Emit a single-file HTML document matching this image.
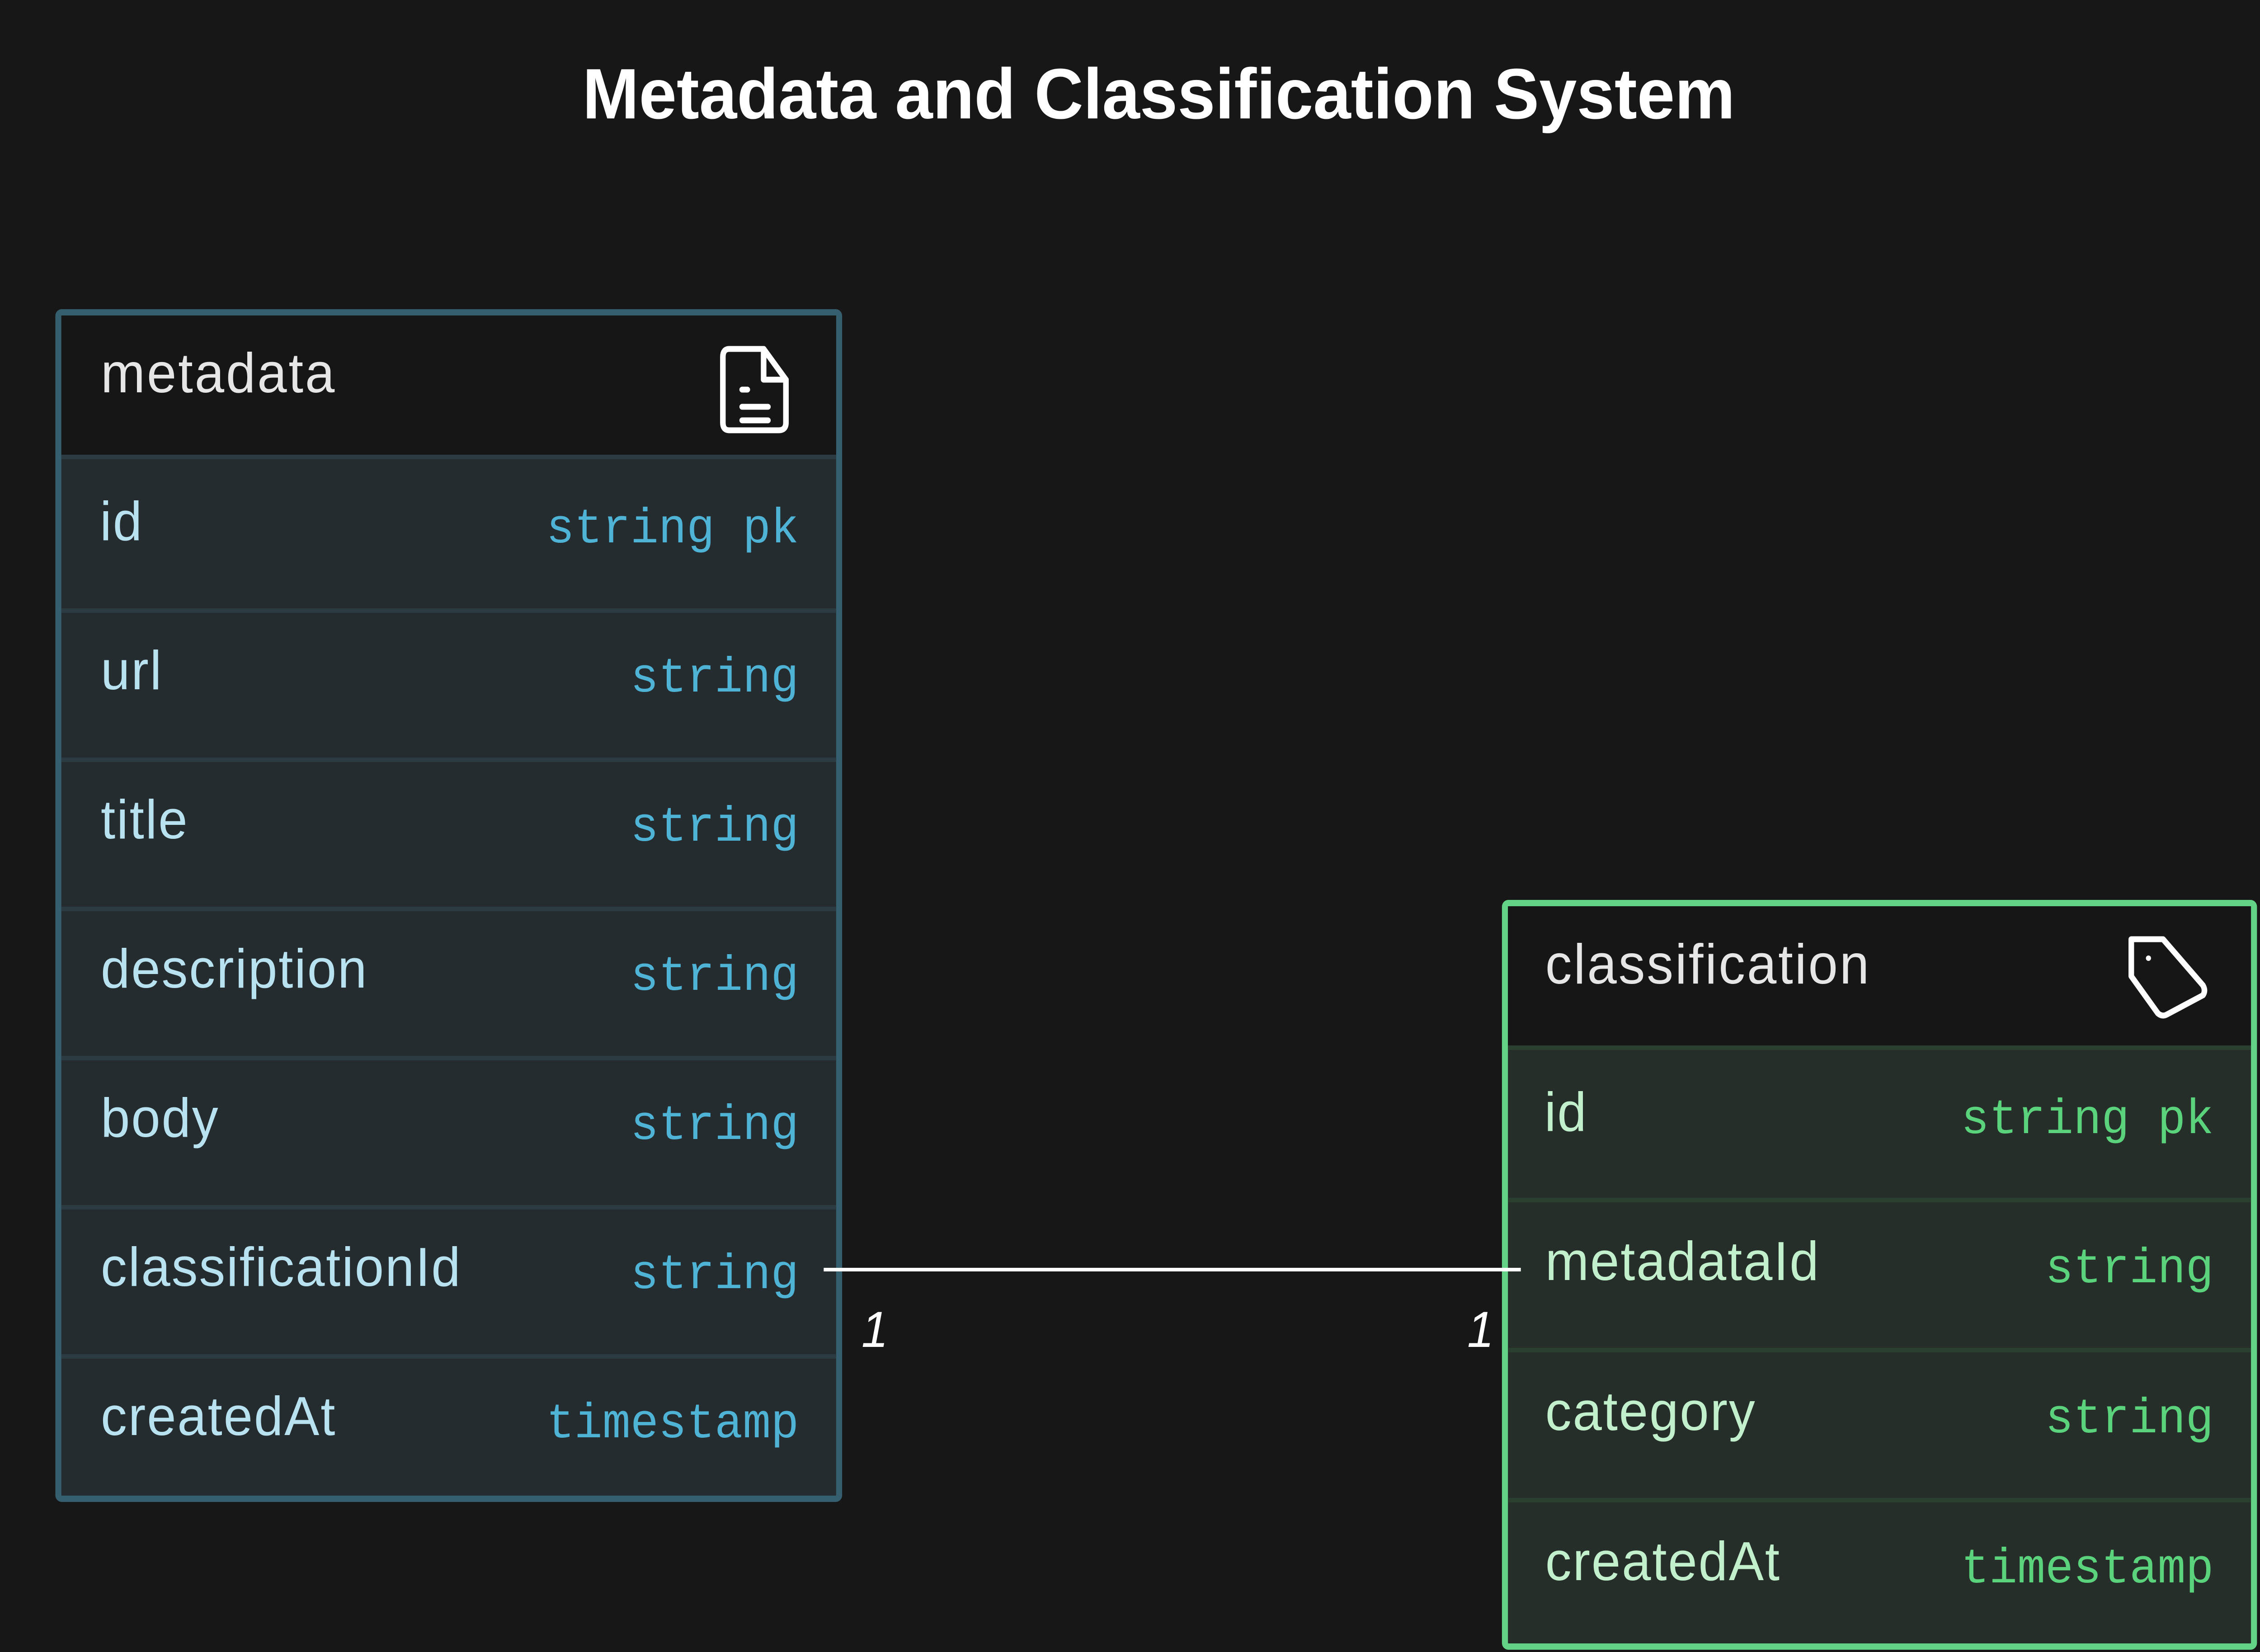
<!DOCTYPE html>
<html><head><meta charset="utf-8"><style>
html,body{margin:0;padding:0;background:#171717;width:100%;height:100%;overflow:hidden;}
svg{display:block;position:fixed;left:0;top:0;width:100vw;height:100vh}
.t{font-family:"Liberation Sans",sans-serif}
.m{font-family:"Liberation Mono",monospace}
</style></head><body>
<svg viewBox="0 0 5268 3655" preserveAspectRatio="none" xmlns="http://www.w3.org/2000/svg">
<rect width="5268" height="3655" fill="#171717"/>
<text x="2701" y="262" text-anchor="middle" class="t" font-weight="bold" font-size="158" fill="#ffffff">Metadata and Classification System</text>

<rect x="136" y="691" width="1820" height="2625" rx="8" fill="#252c30" stroke="#355f6e" stroke-width="14"/>
<rect x="143" y="698" width="1806" height="308" fill="#161616"/>
<g fill="#2c3b42">
<rect x="143" y="1006" width="1806" height="10"/>
<rect x="143" y="1346" width="1806" height="10"/>
<rect x="143" y="1676" width="1806" height="10"/>
<rect x="143" y="2006" width="1806" height="10"/>
<rect x="143" y="2336" width="1806" height="10"/>
<rect x="143" y="2666" width="1806" height="10"/>
<rect x="143" y="2996" width="1806" height="10"/>
</g>
<text x="235" y="868" class="t" font-size="124" letter-spacing="4" fill="#e6e6e6">metadata</text>
<g fill="none" stroke="#ffffff" stroke-width="13" stroke-linejoin="round" stroke-linecap="round">
<path d="M1700 772 H1780 L1832 840 V935 Q1832 952 1815 952 H1700 Q1685 952 1685 935 V790 Q1685 772 1700 772 Z"/>
<path d="M1780 772 V840 H1832"/>
<path d="M1730 862 H1742 M1730 900 H1790 M1730 930 H1790"/>
</g>
<g class="t" font-size="122" letter-spacing="3" fill="#b8e2f0">
<text x="233" y="1195">id</text>
<text x="235" y="1525">url</text>
<text x="235" y="1855">title</text>
<text x="235" y="2185">description</text>
<text x="235" y="2515">body</text>
<text x="235" y="2845">classificationId</text>
<text x="235" y="3175">createdAt</text>
</g>
<g class="m" font-size="109" fill="#4fb3d6" text-anchor="end">
<text x="1862" y="1200">string pk</text>
<text x="1862" y="1530">string</text>
<text x="1862" y="1860">string</text>
<text x="1862" y="2190">string</text>
<text x="1862" y="2520">string</text>
<text x="1862" y="2850">string</text>
<text x="1862" y="3180">timestamp</text>
</g>

<rect x="3508" y="1998" width="1746" height="1645" rx="8" fill="#252e29" stroke="#64d286" stroke-width="14"/>
<rect x="3515" y="2005" width="1732" height="308" fill="#161616"/>
<g fill="#2b3f31">
<rect x="3515" y="2313" width="1732" height="10"/>
<rect x="3515" y="2650" width="1732" height="10"/>
<rect x="3515" y="2982" width="1732" height="10"/>
<rect x="3515" y="3314" width="1732" height="10"/>
</g>
<text x="3602" y="2176" class="t" font-size="124" letter-spacing="4" fill="#e6e6e6">classification</text>
<g fill="none" stroke="#ffffff" stroke-width="13" stroke-linejoin="round">
<path d="M4968 2078 H5042 L5135 2180 Q5142 2192 5135 2202 L5050 2245 Q5040 2250 5030 2242 L4968 2160 Z"/>
</g>
<circle cx="5008" cy="2120" r="6" fill="#ffffff"/>
<g class="t" font-size="122" letter-spacing="3" fill="#c2f0cc">
<text x="3600" y="2502">id</text>
<text x="3602" y="2832">metadataId</text>
<text x="3602" y="3164">category</text>
<text x="3602" y="3496">createdAt</text>
</g>
<g class="m" font-size="109" fill="#5bd37d" text-anchor="end">
<text x="5160" y="2507">string pk</text>
<text x="5160" y="2837">string</text>
<text x="5160" y="3169">string</text>
<text x="5160" y="3501">timestamp</text>
</g>

<line x1="1920" y1="2809" x2="3545" y2="2809" stroke="#ffffff" stroke-width="8"/>
<text x="2008" y="2980" class="t" font-style="italic" font-size="112" fill="#ffffff">1</text>
<text x="3420" y="2980" class="t" font-style="italic" font-size="112" fill="#ffffff">1</text>
</svg>
</body></html>
